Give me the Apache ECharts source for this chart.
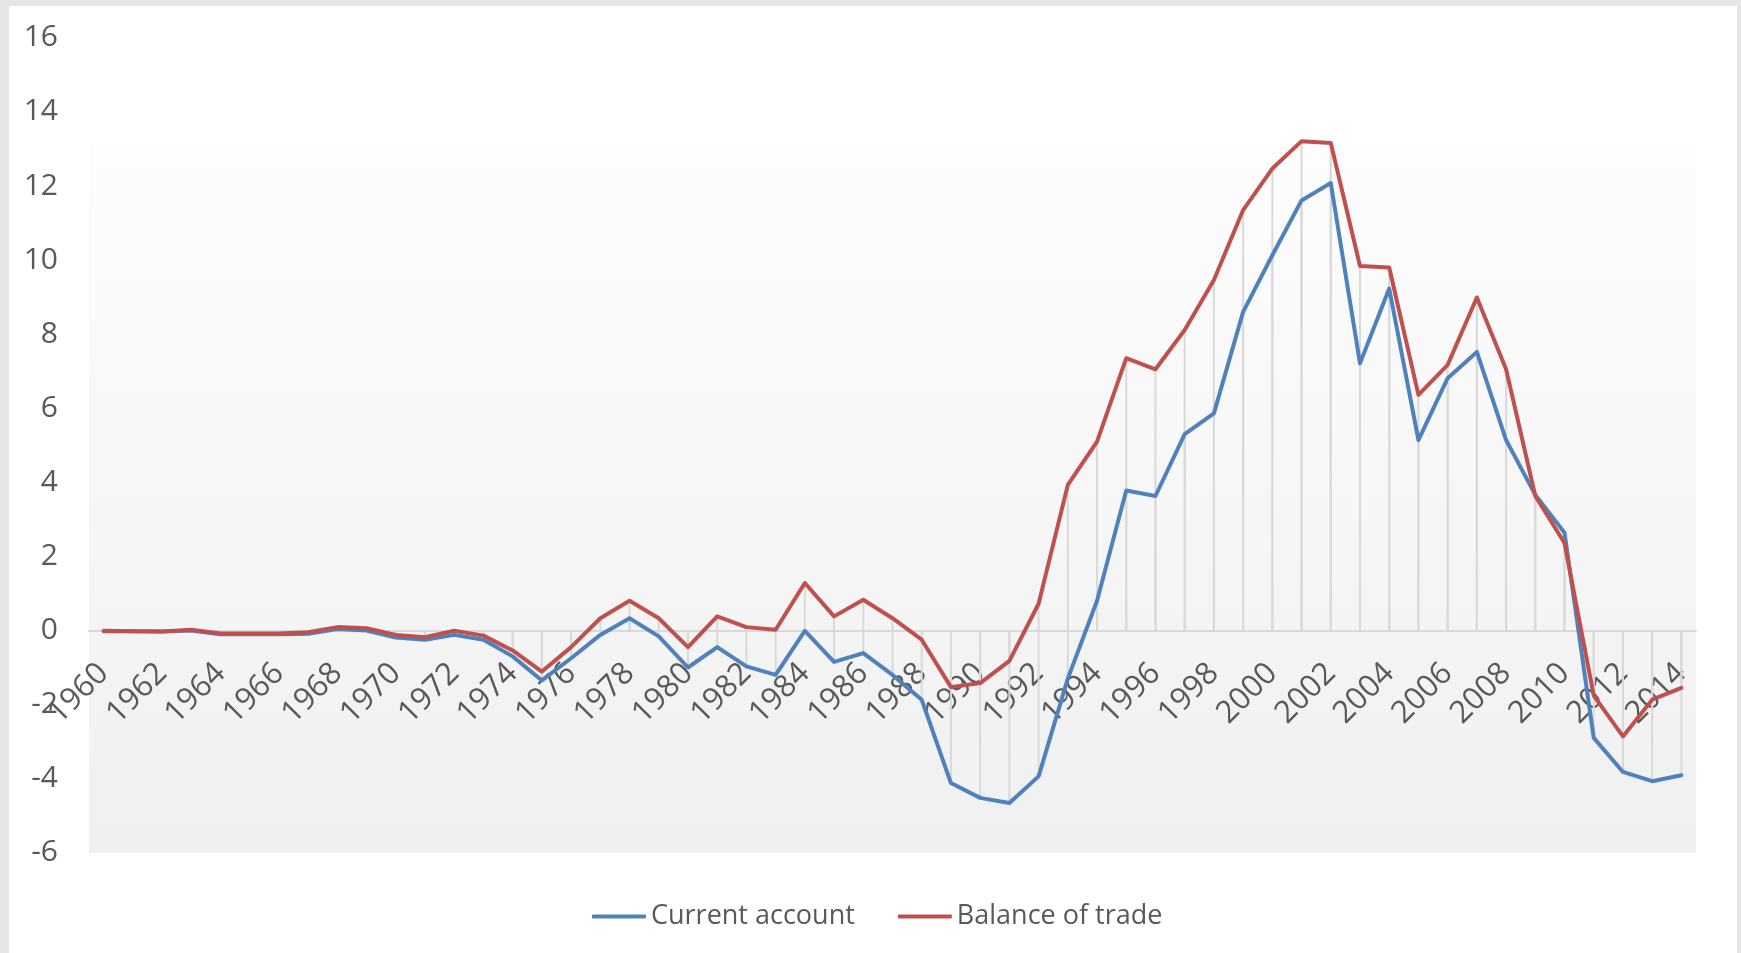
<!DOCTYPE html>
<html>
<head>
<meta charset="utf-8">
<script src="https://cdn.jsdelivr.net/npm/echarts@6/dist/echarts.min.js"></script>
<style>
  html, body { margin: 0; padding: 0; width: 1741px; height: 953px; background: #e6e6e6; overflow: hidden; }
  #chart { position: absolute; left: 9px; top: 6px; width: 1728px; height: 947px; background: #ffffff; }
</style>
</head>
<body>
<div id="chart"></div>
<script>
const years = [];
for (let y = 1960; y <= 2014; y++) years.push(String(y));

const currentAccount = [
  -0.02, -0.02, -0.03, 0.00, -0.10, -0.10, -0.10, -0.09, 0.04, 0.00,
  -0.19, -0.25, -0.12, -0.25, -0.70, -1.35, -0.75, -0.12, 0.33, -0.16,
  -1.00, -0.45, -0.97, -1.20, -0.01, -0.85, -0.61, -1.20, -1.87, -4.12,
  -4.52, -4.66, -3.94, -1.30, 0.80, 3.78, 3.63, 5.30, 5.86, 8.60,
  10.13, 11.61, 12.08, 7.21, 9.23, 5.14, 6.81, 7.52, 5.14, 3.66,
  2.64, -2.90, -3.82, -4.07, -3.91
];

const balanceOfTrade = [
  -0.01, -0.02, -0.03, 0.02, -0.08, -0.08, -0.08, -0.05, 0.09, 0.06,
  -0.12, -0.18, -0.01, -0.14, -0.54, -1.11, -0.45, 0.33, 0.80, 0.33,
  -0.45, 0.38, 0.09, 0.02, 1.28, 0.38, 0.83, 0.33, -0.25, -1.53,
  -1.42, -0.82, 0.72, 3.93, 5.10, 7.35, 7.05, 8.11, 9.46, 11.35,
  12.47, 13.21, 13.16, 9.84, 9.80, 6.36, 7.17, 8.99, 7.05, 3.63,
  2.36, -1.76, -2.86, -1.87, -1.55
];

const seriesNames = ['Current account', 'Balance of trade'];
const yTicks = { min: -6, max: 16, interval: 2 };

const FONT = '"Open Sans", "Noto Sans", sans-serif';
const TEXT = '#595959';
const GRIDC = '#d9d9d9';

const GRID_TOP = 31.8, GRID_BOTTOM = 100.3, CHART_H = 947;
const plotH = CHART_H - GRID_TOP - GRID_BOTTOM;
// place the category axis where the value axis crosses zero
const zeroOffset = -plotH * (0 - yTicks.min) / (yTicks.max - yTicks.min);

const chart = echarts.init(document.getElementById('chart'), null, { renderer: 'canvas' });
chart.setOption({
  animation: false,
  textStyle: { fontFamily: FONT },
  grid: {
    left: 80, right: 41, top: GRID_TOP, bottom: GRID_BOTTOM,
    show: true, borderWidth: 0,
    backgroundColor: {
      type: 'linear', x: 0, y: 0, x2: 0, y2: 1,
      colorStops: [
        { offset: 0, color: '#ffffff' },
        { offset: 0.13, color: '#ffffff' },
        { offset: 0.131, color: '#fdfdfd' },
        { offset: 1, color: '#f0f0f0' }
      ]
    }
  },
  legend: {
    data: seriesNames,
    left: 578, top: 892,
    icon: 'roundRect',
    itemWidth: 54, itemHeight: 4,
    itemGap: 43,
    textStyle: { fontFamily: FONT, fontSize: 27, color: TEXT }
  },
  xAxis: {
    type: 'category',
    data: years,
    boundaryGap: true,
    offset: zeroOffset,
    axisLine: { onZero: false, lineStyle: { color: GRIDC, width: 2 } },
    axisTick: { show: false },
    splitLine: { show: false },
    axisLabel: {
      interval: 1,
      rotate: 45,
      margin: 38,
      hideOverlap: false,
      fontFamily: FONT, fontSize: 31, color: TEXT
    }
  },
  yAxis: {
    type: 'value',
    min: yTicks.min, max: yTicks.max, interval: yTicks.interval,
    axisLine: { show: false },
    axisTick: { show: false },
    splitLine: { show: false },
    axisLabel: { margin: 31, fontFamily: FONT, fontSize: 30, color: TEXT }
  },
  series: [
    {
      name: 'drop-ca', type: 'bar', data: currentAccount, barWidth: 2, barGap: '-100%',
      itemStyle: { color: GRIDC }, silent: true, z: 1
    },
    {
      name: 'drop-bt', type: 'bar', data: balanceOfTrade, barWidth: 2, barGap: '-100%',
      itemStyle: { color: GRIDC }, silent: true, z: 1
    },
    {
      name: seriesNames[0], type: 'line', data: currentAccount,
      showSymbol: false, symbol: 'none',
      lineStyle: { color: '#4f81bd', width: 4, cap: 'round', join: 'round' },
      itemStyle: { color: '#4f81bd' }, z: 3
    },
    {
      name: seriesNames[1], type: 'line', data: balanceOfTrade,
      showSymbol: false, symbol: 'none',
      lineStyle: { color: '#c0504d', width: 4, cap: 'round', join: 'round' },
      itemStyle: { color: '#c0504d' }, z: 4
    }
  ]
});
</script>
</body>
</html>
